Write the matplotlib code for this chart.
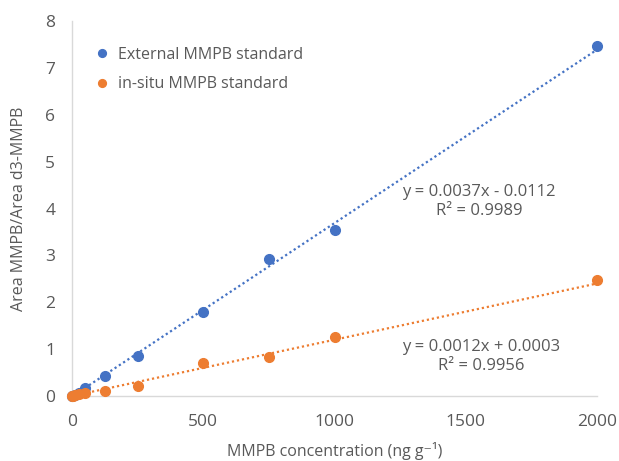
import numpy as np
import matplotlib
matplotlib.use("Agg")
import matplotlib.pyplot as plt

# ---------------- data ----------------
conc_ext = [0, 10, 25, 50, 125, 250, 500, 750, 1000, 2000]
ratio_ext = [0.0, 0.03, 0.07, 0.18, 0.42, 0.85, 1.80, 2.93, 3.55, 7.47]
conc_ins = [0, 5, 10, 25, 50, 125, 250, 500, 750, 1000, 2000]
ratio_ins = [0.0, 0.01, 0.02, 0.04, 0.06, 0.11, 0.22, 0.70, 0.83, 1.26, 2.47]

fit_ext = (0.0037, -0.0112)   # slope, intercept as printed on chart
fit_ins = (0.0012, 0.0003)
label_ext = "External MMPB standard"
label_ins = "in-situ MMPB standard"
eq_ext = "y = 0.0037x - 0.0112\nR² = 0.9989"
eq_ins = "y = 0.0012x + 0.0003\nR² = 0.9956"

BLUE, ORANGE, GREY = "#4472C4", "#ED7D31", "#595959"
plt.rcParams["font.family"] = ["Open Sans", "DejaVu Sans"]
FS = 11.5

fig = plt.figure(figsize=(6.19, 4.61), dpi=100)
ax = fig.add_axes([0.1163, 0.141, 0.8482, 0.8134])

xs = np.array([0, 2000])
ax.plot(xs, fit_ext[0] * xs + fit_ext[1], ls=(0, (1, 1.3)), lw=1.6, color=BLUE, zorder=2)
ax.plot(xs, fit_ins[0] * xs + fit_ins[1], ls=(0, (1, 1.3)), lw=1.6, color=ORANGE, zorder=2)
ax.plot(conc_ext, ratio_ext, "o", ms=7, color=BLUE, label=label_ext, zorder=3, clip_on=False)
ax.plot(conc_ins, ratio_ins, "o", ms=7, color=ORANGE, label=label_ins, zorder=3, clip_on=False)

ax.text(1550, 4.14, eq_ext, ha="center", va="center", fontsize=12, color=GREY, linespacing=1.25)
ax.text(1560, 0.85, eq_ins, ha="center", va="center", fontsize=12, color=GREY, linespacing=1.25)

ax.set_xlim(0, 2000)
ax.set_ylim(0, 8)
ax.set_xticks([0, 500, 1000, 1500, 2000])
ax.set_yticks(range(0, 9))
ax.set_xlabel("MMPB concentration (ng g⁻¹)", fontsize=FS, color=GREY, va="center")
ax.set_ylabel("Area MMPB/Area d3-MMPB", fontsize=FS, color=GREY, va="center")
ax.xaxis.set_label_coords(0.5, -0.147)
ax.yaxis.set_label_coords(-0.1, 0.5)
ax.tick_params(axis="x", length=0, labelsize=12.5, labelcolor=GREY, pad=13)
ax.tick_params(axis="y", length=0, labelsize=12.5, labelcolor=GREY, pad=12)
for s in ("top", "right"):
    ax.spines[s].set_visible(False)
for s in ("left", "bottom"):
    ax.spines[s].set_color("#D9D9D9")
    ax.spines[s].set_linewidth(1)

ax.legend(loc="upper left", bbox_to_anchor=(0.0, 0.97), frameon=False, fontsize=FS,
          labelcolor=GREY, handletextpad=0.0, markerscale=0.8, labelspacing=0.85)

fig.savefig("out.png", dpi=100)
